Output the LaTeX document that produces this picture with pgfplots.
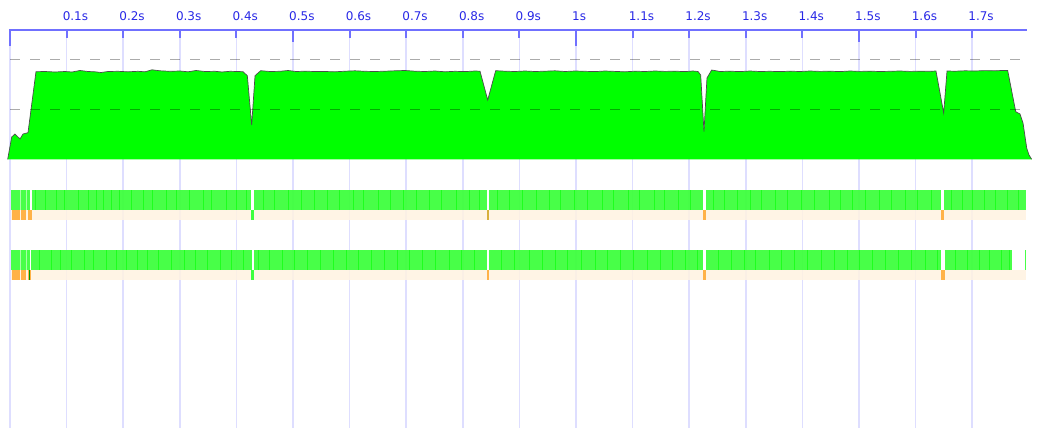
\documentclass[border=0pt]{standalone}
\usepackage{pgfplots}
\pgfplotsset{compat=1.18}
\usepackage{pgfplotstable}
\usepackage{fontspec}
\setmainfont{DejaVu Sans}
\definecolor{axisblue}{RGB}{112,112,255}
\definecolor{gridblue}{RGB}{222,222,255}
\definecolor{labelblue}{RGB}{40,40,230}
\definecolor{areagreen}{RGB}{0,255,0}
\definecolor{bargreen}{RGB}{62,255,62}
\definecolor{darkstripe}{RGB}{30,255,30}
\definecolor{beige}{RGB}{255,242,225}
\definecolor{orangemark}{RGB}{255,178,72}
\definecolor{olivemark}{RGB}{215,175,60}

% CPU graph: time (s), vertical position (px from top)
\pgfplotstableread{
t y
-0.0041 159.3
0.0030 137
0.0088 134
0.0177 139
0.0230 134
0.0318 132.7
0.0459 71.7
0.0618 71.5
0.0795 72
0.0972 71.5
0.1095 72
0.1237 70.5
0.1378 71.5
0.1502 71.8
0.1608 72.5
0.1731 71.5
0.1908 71.3
0.2085 71.8
0.2261 71.3
0.2385 71.8
0.2509 69.8
0.2650 70.8
0.2827 71.3
0.3004 71
0.3145 71.8
0.3286 70.5
0.3445 71.5
0.3622 71.3
0.3746 72
0.3887 71.3
0.4028 71.5
0.4117 71.7
0.4193 75.7
0.4270 125
0.4329 75.7
0.4429 70.7
0.4594 71.5
0.4770 71.3
0.4912 70.5
0.5053 71.5
0.5212 71.2
0.5389 71.5
0.5565 71.5
0.5742 71.8
0.5919 71.2
0.6095 70.8
0.6272 71.3
0.6449 71.5
0.6625 71.2
0.6802 70.8
0.6979 70.5
0.7155 71.2
0.7332 71.5
0.7509 71.0
0.7686 71.8
0.7862 71.3
0.8039 71.6
0.8216 71.0
0.8304 71.2
0.8440 100
0.8581 70.7
0.8746 71.2
0.8922 71.5
0.9099 71.0
0.9276 71.5
0.9452 71.2
0.9629 70.8
0.9806 71.5
0.9982 71.0
1.0159 71.3
1.0336 71.6
1.0512 71.0
1.0689 71.4
1.0866 71.8
1.1042 71.2
1.1219 71.5
1.1396 71.0
1.1572 71.4
1.1749 71.2
1.1926 71.6
1.2067 71.0
1.2155 71.5
1.2203 75
1.2261 131.7
1.2314 78
1.2397 70
1.2544 71.5
1.2721 71.2
1.2898 71.6
1.3074 71.0
1.3251 71.5
1.3428 71.3
1.3604 71.6
1.3781 71.2
1.3958 71.5
1.4134 71.0
1.4311 71.4
1.4488 71.2
1.4664 71.6
1.4841 71.0
1.5018 71.4
1.5194 71.2
1.5371 71.5
1.5548 71.3
1.5724 71.0
1.5901 71.4
1.6078 71.2
1.6254 71.3
1.6360 71.0
1.6496 113
1.6555 71
1.6696 71.2
1.6873 70.8
1.7049 71.0
1.7226 70.6
1.7403 70.8
1.7527 70.5
1.7627 70.5
1.7769 111.7
1.7845 114
1.7898 123
1.7963 148
1.8004 155
1.8051 159.3
}\areadata

\begin{document}
\begin{tikzpicture}
\begin{axis}[
  scale only axis, width=1037pt, height=399pt,
  xmin=-0.017668, xmax=1.814488,
  ymin=29, ymax=428, y dir=reverse,
  axis line style={draw=none},
  ytick=\empty,
  xtick={0,0.1,0.2,0.3,0.4,0.5,0.6,0.7,0.8,0.9,1.0,1.1,1.2,1.3,1.4,1.5,1.6,1.7},
  xticklabels={,0.1s,0.2s,0.3s,0.4s,0.5s,0.6s,0.7s,0.8s,0.9s,1s,1.1s,1.2s,1.3s,1.4s,1.5s,1.6s,1.7s},
  xticklabel pos=upper,
  major tick length=0pt,
  xmajorgrids,
  grid style={gridblue, line width=1.5pt},
  xticklabel style={anchor=base west, inner sep=0pt, xshift=-4pt, yshift=9pt, text=labelblue, font=\fontsize{12}{14}\selectfont},
  unbounded coords=jump,
]
% CPU area
\addplot[fill=areagreen, draw=none] table {\areadata} -- cycle;
\addplot[draw=black!70, line width=0.7pt] table {\areadata};
% dashed reference lines
\addplot[black, opacity=0.33, line width=1.2pt, dash pattern=on 10pt off 10pt] coordinates {(0,59.3)(1.8021,59.3)};
\addplot[black, opacity=0.33, line width=1.2pt, dash pattern=on 10pt off 10pt] coordinates {(0,109.3)(1.8021,109.3)};

% track 1
\addplot[beige, opacity=0.85, line width=10pt] coordinates {(0.0018,215)(1.7951,215)};
\addplot[orangemark, line width=10pt] coordinates {(0.0035,215)(0.0171,215) (0.018,nan) (0.0194,215)(0.0283,215) (0.030,nan) (0.0323,215)(0.0389,215) (0.5,nan) (1.2249,215)(1.2297,215) (1.4,nan) (1.6449,215)(1.6507,215)};
\addplot[olivemark, line width=10pt] coordinates {(0.8433,215)(0.8468,215)};
\addplot[bargreen, line width=10pt] coordinates {(0.4258,215)(0.4311,215)};
\addplot[bargreen, opacity=0.95, line width=20pt] coordinates {(0.0018,200)(0.0353,200) (0.036,nan) (0.0383,200)(0.4258,200) (0.43,nan) (0.4311,200)(0.8433,200) (0.845,nan) (0.8468,200)(1.2249,200) (1.227,nan) (1.2297,200)(1.6449,200) (1.648,nan) (1.6507,200)(1.7945,200)};
\addplot[darkstripe, line width=1pt] coordinates {
(0.045,190)(0.045,210)(0.045,nan) (0.062,190)(0.062,210)(0.062,nan) (0.083,190)(0.083,210)(0.083,nan) (0.097,190)(0.097,210)(0.097,nan)
(0.121,190)(0.121,210)(0.121,nan) (0.138,190)(0.138,210)(0.138,nan) (0.152,190)(0.152,210)(0.152,nan) (0.166,190)(0.166,210)(0.166,nan)
(0.179,190)(0.179,210)(0.179,nan) (0.193,190)(0.193,210)(0.193,nan) (0.214,190)(0.214,210)(0.214,nan) (0.236,190)(0.236,210)(0.236,nan)
(0.251,190)(0.251,210)(0.251,nan) (0.277,190)(0.277,210)(0.277,nan) (0.295,190)(0.295,210)(0.295,nan) (0.318,190)(0.318,210)(0.318,nan)
(0.341,190)(0.341,210)(0.341,nan) (0.356,190)(0.356,210)(0.356,nan) (0.382,190)(0.382,210)(0.382,nan) (0.401,190)(0.401,210)(0.401,nan)
(0.418,190)(0.418,210)(0.418,nan) (0.447,190)(0.447,210)(0.447,nan) (0.468,190)(0.468,210)(0.468,nan) (0.492,190)(0.492,210)(0.492,nan)
(0.515,190)(0.515,210)(0.515,nan) (0.538,190)(0.538,210)(0.538,nan) (0.561,190)(0.561,210)(0.561,nan) (0.583,190)(0.583,210)(0.583,nan)
(0.607,190)(0.607,210)(0.607,nan) (0.624,190)(0.624,210)(0.624,nan) (0.651,190)(0.651,210)(0.651,nan) (0.672,190)(0.672,210)(0.672,nan)
(0.695,190)(0.695,210)(0.695,nan) (0.718,190)(0.718,210)(0.718,nan) (0.742,190)(0.742,210)(0.742,nan) (0.763,190)(0.763,210)(0.763,nan)
(0.789,190)(0.789,210)(0.789,nan) (0.811,190)(0.811,210)(0.811,nan) (0.829,190)(0.829,210)(0.829,nan) (0.861,190)(0.861,210)(0.861,nan)
(0.883,190)(0.883,210)(0.883,nan) (0.905,190)(0.905,210)(0.905,nan) (0.931,190)(0.931,210)(0.931,nan) (0.954,190)(0.954,210)(0.954,nan)
(0.972,190)(0.972,210)(0.972,nan) (0.998,190)(0.998,210)(0.998,nan) (1.021,190)(1.021,210)(1.021,nan) (1.047,190)(1.047,210)(1.047,nan)
(1.066,190)(1.066,210)(1.066,nan) (1.092,190)(1.092,210)(1.092,nan) (1.113,190)(1.113,210)(1.113,nan) (1.138,190)(1.138,210)(1.138,nan)
(1.157,190)(1.157,210)(1.157,nan) (1.181,190)(1.181,210)(1.181,nan) (1.203,190)(1.203,210)(1.203,nan) (1.243,190)(1.243,210)(1.243,nan)
(1.262,190)(1.262,210)(1.262,nan) (1.286,190)(1.286,210)(1.286,nan) (1.309,190)(1.309,210)(1.309,nan) (1.327,190)(1.327,210)(1.327,nan)
(1.352,190)(1.352,210)(1.352,nan) (1.374,190)(1.374,210)(1.374,nan) (1.398,190)(1.398,210)(1.398,nan) (1.421,190)(1.421,210)(1.421,nan)
(1.447,190)(1.447,210)(1.447,nan) (1.468,190)(1.468,210)(1.468,nan) (1.489,190)(1.489,210)(1.489,nan) (1.512,190)(1.512,210)(1.512,nan)
(1.537,190)(1.537,210)(1.537,nan) (1.558,190)(1.558,210)(1.558,nan) (1.583,190)(1.583,210)(1.583,nan) (1.604,190)(1.604,210)(1.604,nan)
(1.628,190)(1.628,210)(1.628,nan) (1.664,190)(1.664,210)(1.664,nan) (1.683,190)(1.683,210)(1.683,nan) (1.701,190)(1.701,210)(1.701,nan)
(1.722,190)(1.722,210)(1.722,nan) (1.741,190)(1.741,210)(1.741,nan) (1.763,190)(1.763,210)(1.763,nan) (1.781,190)(1.781,210)(1.781,nan)};
\addplot[green!35!white, line width=1pt] coordinates {(0.0177,190)(0.0177,210) (0.02,nan) (0.0300,190)(0.0300,210)};

% track 2
\addplot[beige, opacity=0.85, line width=10pt] coordinates {(0.0018,275)(1.7951,275)};
\addplot[orangemark, line width=10pt] coordinates {(0.0035,275)(0.0177,275) (0.018,nan) (0.0194,275)(0.0283,275) (0.030,nan) (0.0313,275)(0.0371,275) (0.5,nan) (0.8433,275)(0.8468,275) (1.0,nan) (1.2249,275)(1.2297,275) (1.4,nan) (1.6449,275)(1.6514,275)};
\addplot[bargreen, line width=10pt] coordinates {(0.4258,275)(0.4311,275)};
\addplot[black!40!green, line width=1pt] coordinates {(0.0345,270)(0.0345,280)};
\addplot[bargreen, opacity=0.95, line width=20pt] coordinates {(0.0018,260)(0.0348,260) (0.036,nan) (0.0371,260)(0.4267,260) (0.43,nan) (0.4311,260)(0.8433,260) (0.845,nan) (0.8468,260)(1.2249,260) (1.227,nan) (1.2297,260)(1.6449,260) (1.648,nan) (1.6514,260)(1.7703,260) (1.78,nan) (1.7933,260)(1.7951,260)};
\addplot[darkstripe, line width=1pt] coordinates {
(0.052,250)(0.052,270)(0.052,nan) (0.074,250)(0.074,270)(0.074,nan) (0.089,250)(0.089,270)(0.089,nan) (0.108,250)(0.108,270)(0.108,nan)
(0.131,250)(0.131,270)(0.131,nan) (0.147,250)(0.147,270)(0.147,nan) (0.171,250)(0.171,270)(0.171,nan) (0.188,250)(0.188,270)(0.188,nan)
(0.205,250)(0.205,270)(0.205,nan) (0.226,250)(0.226,270)(0.226,nan) (0.243,250)(0.243,270)(0.243,nan) (0.263,250)(0.263,270)(0.263,nan)
(0.286,250)(0.286,270)(0.286,nan) (0.308,250)(0.308,270)(0.308,nan) (0.327,250)(0.327,270)(0.327,nan) (0.349,250)(0.349,270)(0.349,nan)
(0.372,250)(0.372,270)(0.372,nan) (0.391,250)(0.391,270)(0.391,nan) (0.412,250)(0.412,270)(0.412,nan) (0.439,250)(0.439,270)(0.439,nan)
(0.458,250)(0.458,270)(0.458,nan) (0.481,250)(0.481,270)(0.481,nan) (0.503,250)(0.503,270)(0.503,nan) (0.526,250)(0.526,270)(0.526,nan)
(0.549,250)(0.549,270)(0.549,nan) (0.572,250)(0.572,270)(0.572,nan) (0.594,250)(0.594,270)(0.594,nan) (0.615,250)(0.615,270)(0.615,nan)
(0.638,250)(0.638,270)(0.638,nan) (0.661,250)(0.661,270)(0.661,nan) (0.684,250)(0.684,270)(0.684,nan) (0.706,250)(0.706,270)(0.706,nan)
(0.729,250)(0.729,270)(0.729,nan) (0.751,250)(0.751,270)(0.751,nan) (0.776,250)(0.776,270)(0.776,nan) (0.798,250)(0.798,270)(0.798,nan)
(0.820,250)(0.820,270)(0.820,nan) (0.869,250)(0.869,270)(0.869,nan) (0.892,250)(0.892,270)(0.892,nan) (0.917,250)(0.917,270)(0.917,nan)
(0.941,250)(0.941,270)(0.941,nan) (0.963,250)(0.963,270)(0.963,nan) (0.985,250)(0.985,270)(0.985,nan) (1.009,250)(1.009,270)(1.009,nan)
(1.034,250)(1.034,270)(1.034,nan) (1.056,250)(1.056,270)(1.056,nan) (1.079,250)(1.079,270)(1.079,nan) (1.101,250)(1.101,270)(1.101,nan)
(1.126,250)(1.126,270)(1.126,nan) (1.149,250)(1.149,270)(1.149,nan) (1.171,250)(1.171,270)(1.171,nan) (1.193,250)(1.193,270)(1.193,nan)
(1.214,250)(1.214,270)(1.214,nan) (1.251,250)(1.251,270)(1.251,nan) (1.274,250)(1.274,270)(1.274,nan) (1.297,250)(1.297,270)(1.297,nan)
(1.318,250)(1.318,270)(1.318,nan) (1.341,250)(1.341,270)(1.341,nan) (1.363,250)(1.363,270)(1.363,nan) (1.386,250)(1.386,270)(1.386,nan)
(1.409,250)(1.409,270)(1.409,nan) (1.433,250)(1.433,270)(1.433,nan) (1.456,250)(1.456,270)(1.456,nan) (1.479,250)(1.479,270)(1.479,nan)
(1.501,250)(1.501,270)(1.501,nan) (1.524,250)(1.524,270)(1.524,nan) (1.547,250)(1.547,270)(1.547,nan) (1.569,250)(1.569,270)(1.569,nan)
(1.592,250)(1.592,270)(1.592,nan) (1.617,250)(1.617,270)(1.617,nan) (1.638,250)(1.638,270)(1.638,nan) (1.671,250)(1.671,270)(1.671,nan)
(1.692,250)(1.692,270)(1.692,nan) (1.713,250)(1.713,270)(1.713,nan) (1.731,250)(1.731,270)(1.731,nan) (1.752,250)(1.752,270)(1.752,nan)
(1.766,250)(1.766,270)(1.766,nan)};
\addplot[green!35!white, line width=1pt] coordinates {(0.0177,250)(0.0177,270) (0.02,nan) (0.0300,250)(0.0300,270)};

% top time axis
\addplot[axisblue, line width=2pt] coordinates {(-0.0018,30)(1.7968,30)};
\addplot[axisblue, line width=2pt] coordinates {
(0,30)(0,45.7) (0.05,nan)
(0.1,30)(0.1,38) (0.15,nan)
(0.2,30)(0.2,38) (0.25,nan)
(0.3,30)(0.3,38) (0.35,nan)
(0.4,30)(0.4,38) (0.45,nan)
(0.5,30)(0.5,41.7) (0.55,nan)
(0.6,30)(0.6,38) (0.65,nan)
(0.7,30)(0.7,38) (0.75,nan)
(0.8,30)(0.8,38) (0.85,nan)
(0.9,30)(0.9,38) (0.95,nan)
(1.0,30)(1.0,45.7) (1.05,nan)
(1.1,30)(1.1,38) (1.15,nan)
(1.2,30)(1.2,38) (1.25,nan)
(1.3,30)(1.3,38) (1.35,nan)
(1.4,30)(1.4,38) (1.45,nan)
(1.5,30)(1.5,41.7) (1.55,nan)
(1.6,30)(1.6,38) (1.65,nan)
(1.7,30)(1.7,38)};
\end{axis}
\path (current axis.north west) ++(0,29pt);
\end{tikzpicture}
\end{document}
